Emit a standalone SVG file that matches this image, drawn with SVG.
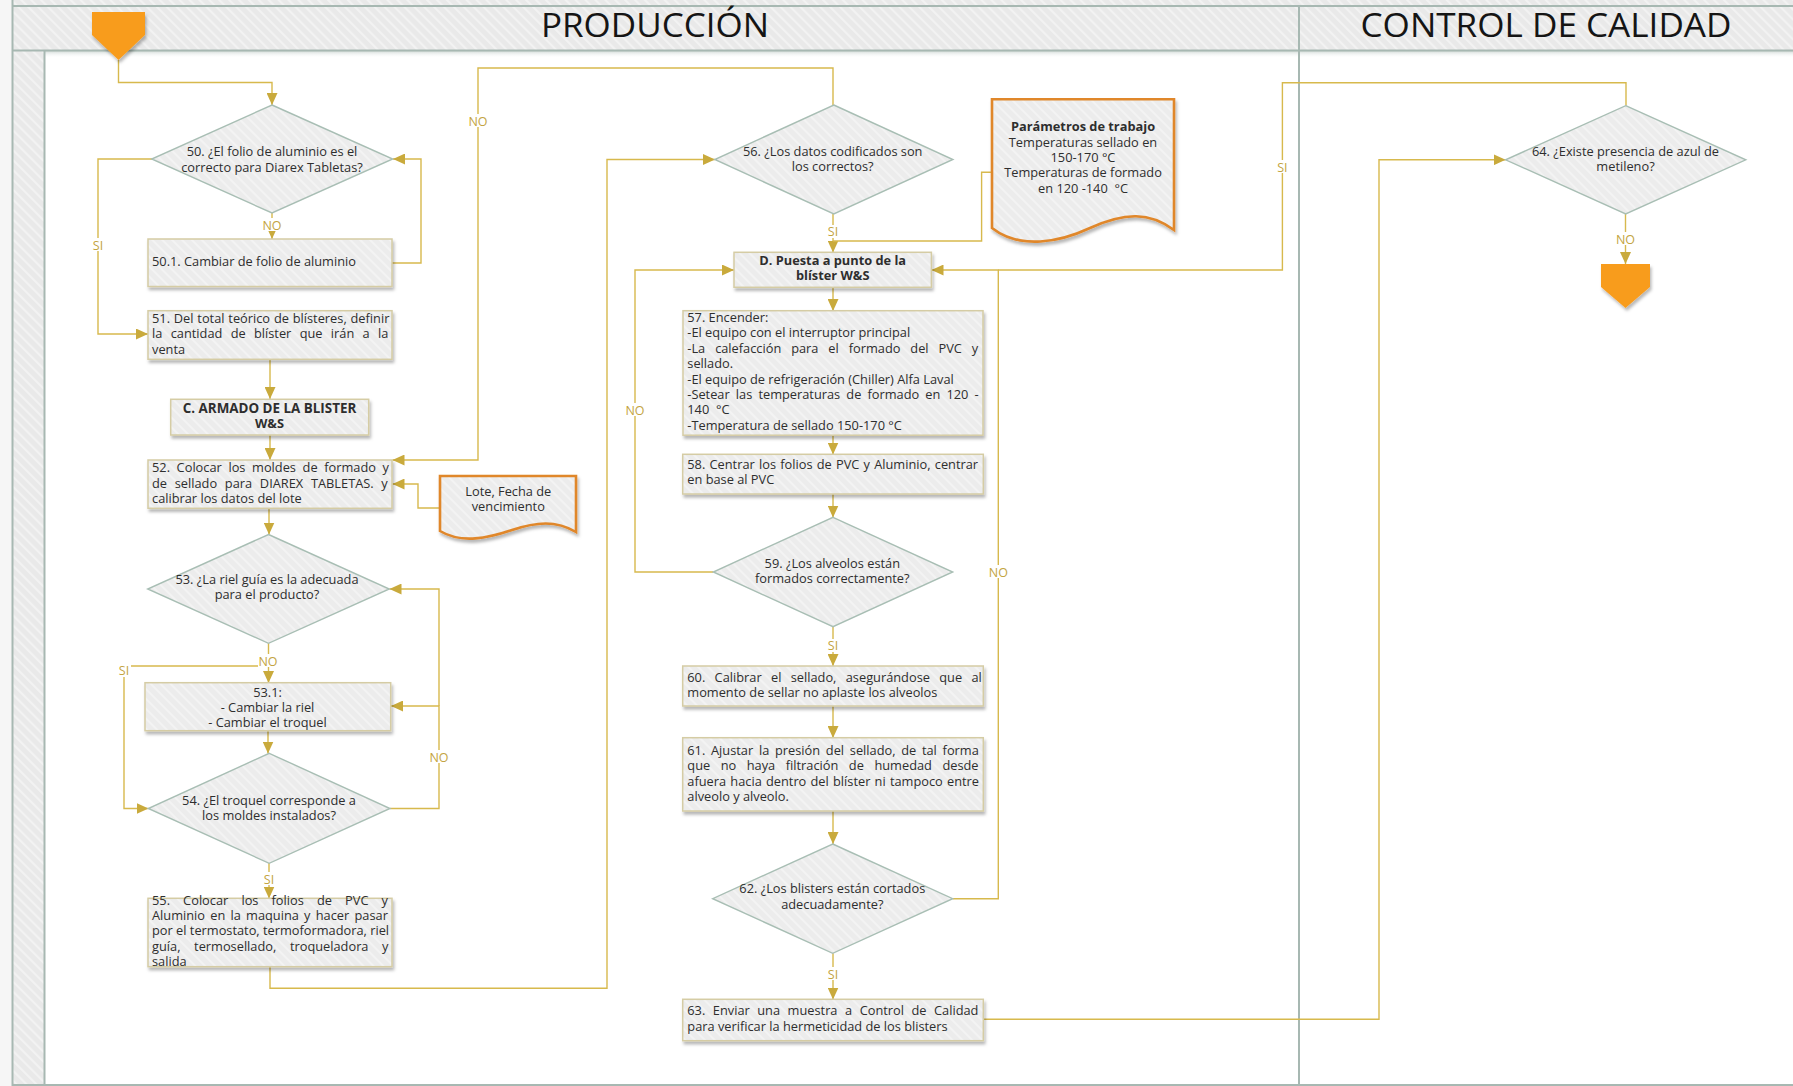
<svg xmlns="http://www.w3.org/2000/svg" width="1793" height="1086" viewBox="0 0 1793 1086">
  <defs>
    <!-- light diagonal hatch used by lanes and node fills -->
    <pattern id="hatch" patternUnits="userSpaceOnUse" width="7" height="7" patternTransform="rotate(-45)">
      <rect width="7" height="7" fill="#ececec"/>
      <line x1="1" y1="0" x2="1" y2="7" stroke="#f3f3f3" stroke-width="2.2"/>
    </pattern>
    <pattern id="hatchLane" patternUnits="userSpaceOnUse" width="7" height="7" patternTransform="rotate(-45)">
      <rect width="7" height="7" fill="#e9e9e9"/>
      <line x1="1" y1="0" x2="1" y2="7" stroke="#f2f2f2" stroke-width="2.4"/>
    </pattern>
    <filter id="shadow" x="-10%" y="-15%" width="130%" height="150%">
      <feDropShadow dx="1.5" dy="3" stdDeviation="1.8" flood-color="#000" flood-opacity="0.28"/>
    </filter>
    <linearGradient id="headShade" x1="0" y1="0" x2="0" y2="1">
      <stop offset="0" stop-color="#aebdb8" stop-opacity="0.55"/>
      <stop offset="1" stop-color="#ffffff" stop-opacity="0"/>
    </linearGradient>
    <marker id="arrow" markerUnits="userSpaceOnUse" markerWidth="13" markerHeight="11" refX="12" refY="5.5" orient="auto">
      <path d="M0,0 L12,5.5 L0,11 Z" fill="#c9aa3c"/>
    </marker>
  </defs>
  <style>
    .lane-line { stroke: #a7b8b2; stroke-width: 2; fill: none; }
    .box { fill: url(#hatch); stroke: #d5cca4; stroke-width: 1.5; filter: url(#shadow); }
    .dia { fill: url(#hatch); stroke: #a8beb4; stroke-width: 1.4; }
    .doc { fill: url(#hatch); stroke: #e0872a; stroke-width: 2.6; filter: url(#shadow); }
    .term { fill: #f89c1d; filter: url(#shadow); }
    .t { font-family: "Open Sans", "Noto Sans", sans-serif; font-size: 12.8px; fill: #2e2e2e; }
    .c { text-anchor: middle; }
    .b { font-weight: 700; }
    .head { font-family: "Open Sans", "Noto Sans", sans-serif; font-size: 32px; fill: #151515; text-anchor: middle; }
    .conn { fill: none; stroke: #d7b94d; stroke-width: 1.4; }
    .arr { marker-end: url(#arrow); }
    .lbl { font-family: "Open Sans", "Noto Sans", sans-serif; font-size: 12.5px; fill: #c3a441; text-anchor: middle; }
    .lblbg { fill: #ffffff; }
  </style>

  <!-- swimlane frame -->
  <g id="lanes">
    <rect x="0" y="0" width="1793" height="1086" fill="#ffffff"/>
    <rect x="0" y="0" width="12" height="1086" fill="#f6f6f6"/>
    <rect x="12" y="0" width="1781" height="6" fill="url(#hatchLane)"/>
    <rect x="12" y="6" width="1781" height="44" fill="url(#hatchLane)"/>
    <rect x="12" y="50" width="33" height="1035" fill="url(#hatchLane)"/>
    <rect x="45" y="51" width="1748" height="7" fill="url(#headShade)"/>
    <line class="lane-line" x1="12" y1="6" x2="1793" y2="6"/>
    <line class="lane-line" x1="12" y1="50.5" x2="1793" y2="50.5" stroke-width="2.5"/>
    <line class="lane-line" x1="12.5" y1="0" x2="12.5" y2="1086"/>
    <line class="lane-line" x1="44.5" y1="50" x2="44.5" y2="1085" stroke-width="1.5"/>
    <line class="lane-line" x1="1299" y1="6" x2="1299" y2="1085" stroke-width="1.5"/>
    <line class="lane-line" x1="12" y1="1085" x2="1793" y2="1085"/>
    <text class="head" x="655" y="37" textLength="228" lengthAdjust="spacingAndGlyphs">PRODUCCIÓN</text>
    <text class="head" x="1546" y="37" textLength="371" lengthAdjust="spacingAndGlyphs">CONTROL DE CALIDAD</text>
  </g>

  <!-- connectors -->
  <g id="connectors">
    <path class="conn arr" d="M118.5,60 V82.5 H272 V105"/>
    <path class="conn arr" d="M272,213 V239"/>
    <path class="conn arr" d="M392,263 H421 V159 H393"/>
    <path class="conn arr" d="M152,159 H98 V334 H148"/>
    <path class="conn arr" d="M270,359 V399"/>
    <path class="conn arr" d="M270,435 V460"/>
    <path class="conn arr" d="M833,105 V68 H478 V460 H392.5"/>
    <path class="conn arr" d="M440,508 H418 V484 H392.5"/>
    <path class="conn arr" d="M269,508 V534.5"/>
    <path class="conn arr" d="M268.5,643 V683"/>
    <path class="conn arr" d="M268.5,666 H124 V808.5 H148.5"/>
    <path class="conn arr" d="M390,808.5 H439 V706 H391"/>
    <path class="conn arr" d="M439,706 V589 H389.5"/>
    <path class="conn arr" d="M268,731 V753.5"/>
    <path class="conn arr" d="M269,863 V898.5"/>
    <path class="conn arr" d="M270,967 V988.3 H607 V159.5 H715"/>
    <path class="conn arr" d="M833,214 V252.5"/>
    <path class="conn" d="M992,172.3 H981.6 V241 H833"/>
    <path class="conn arr" d="M713.3,572 H635 V270 H734"/>
    <path class="conn arr" d="M952.7,898.7 H998.3 V270 H931.5"/>
    <path class="conn" d="M1626,105.7 V82.7 H1282.4 V270 H998.3"/>
    <path class="conn arr" d="M833,287.3 V311"/>
    <path class="conn arr" d="M833,435.5 V454.5"/>
    <path class="conn arr" d="M833,494 V517.5"/>
    <path class="conn arr" d="M833,626.7 V666"/>
    <path class="conn arr" d="M833,706 V738"/>
    <path class="conn arr" d="M833,811 V844"/>
    <path class="conn arr" d="M833,953.3 V999.5"/>
    <path class="conn arr" d="M983.3,1019.3 H1379 V159.8 H1505.6"/>
    <path class="conn arr" d="M1625.5,214 V264"/>
  </g>

  <!-- branch labels -->
  <g id="connector-labels">
    <rect class="lblbg" x="262" y="218" width="20" height="13"/><text class="lbl" x="272" y="229.5">NO</text>
    <rect class="lblbg" x="91" y="238" width="14" height="13"/><text class="lbl" x="98" y="249.5">SI</text>
    <rect class="lblbg" x="468" y="114" width="20" height="13"/><text class="lbl" x="478" y="125.5">NO</text>
    <rect class="lblbg" x="258" y="654" width="20" height="13"/><text class="lbl" x="268" y="665.5">NO</text>
    <rect class="lblbg" x="117" y="663" width="14" height="14"/><text class="lbl" x="124" y="674.5">SI</text>
    <rect class="lblbg" x="429" y="750" width="20" height="13"/><text class="lbl" x="439" y="761.5">NO</text>
    <rect class="lblbg" x="262" y="872" width="14" height="13"/><text class="lbl" x="269" y="883.5">SI</text>
    <rect class="lblbg" x="826" y="225" width="14" height="13"/><text class="lbl" x="833" y="236">SI</text>
    <rect class="lblbg" x="625" y="403" width="20" height="13"/><text class="lbl" x="635" y="414.5">NO</text>
    <rect class="lblbg" x="988" y="565" width="20" height="13"/><text class="lbl" x="998.3" y="576.5">NO</text>
    <rect class="lblbg" x="826" y="639" width="14" height="13"/><text class="lbl" x="833" y="650">SI</text>
    <rect class="lblbg" x="826" y="967" width="14" height="13"/><text class="lbl" x="833" y="978.5">SI</text>
    <rect class="lblbg" x="1275" y="160" width="14" height="13"/><text class="lbl" x="1282.4" y="171.5">SI</text>
    <rect class="lblbg" x="1615" y="232" width="20" height="13"/><text class="lbl" x="1625.5" y="243.5">NO</text>
  </g>

  <!-- terminators -->
  <g id="start">
    <path class="term" d="M92,12 H145 V35 L118.5,60 L92,35 Z"/>
  </g>
  <g id="end">
    <path class="term" d="M1601,264 H1650 V287 L1625.5,308 L1601,287 Z"/>
  </g>

  <!-- Producción: first column -->
  <g id="n50">
    <path class="dia" d="M272,105 L392.7,159 L272,213 L151.7,159 Z"/>
    <text class="t c"><tspan x="272" y="156.3">50. ¿El folio de aluminio es el</tspan><tspan x="272" y="171.7">correcto para Diarex Tabletas?</tspan></text>
  </g>
  <g id="n50_1">
    <rect class="box" x="148" y="239" width="244" height="47.5"/>
    <text class="t" x="152" y="265.5">50.1. Cambiar de folio de aluminio</text>
  </g>
  <g id="n51">
    <rect class="box" x="148" y="310.7" width="244" height="48.6"/>
    <text class="t"><tspan x="152" y="322.9" word-spacing="0.5">51. Del total teórico de blísteres, definir</tspan><tspan x="152" y="338.3" word-spacing="5">la cantidad de blíster que irán a la</tspan><tspan x="152" y="353.7">venta</tspan></text>
  </g>
  <g id="nC">
    <rect class="box" x="170.7" y="399.3" width="198" height="35.7"/>
    <text class="t c b"><tspan x="269.5" y="412.8" font-size="13.4">C. ARMADO DE LA BLISTER</tspan><tspan x="269.5" y="428.2">W&amp;S</tspan></text>
  </g>
  <g id="n52">
    <rect class="box" x="148" y="460" width="244" height="48.3"/>
    <text class="t"><tspan x="152" y="472.1" word-spacing="3.3">52. Colocar los moldes de formado y</tspan><tspan x="152" y="487.5" word-spacing="4.4">de sellado para DIAREX TABLETAS. y</tspan><tspan x="152" y="502.9">calibrar los datos del lote</tspan></text>
  </g>
  <g id="doc_lote">
    <path class="doc" d="M440,476 H576 V532 C556,520 536,522 512,530 C488,538 462,544 440,531 Z"/>
    <text class="t c"><tspan x="508.3" y="496">Lote, Fecha de</tspan><tspan x="508.3" y="511.4">vencimiento</tspan></text>
  </g>
  <g id="n53">
    <path class="dia" d="M268.5,534.5 L389.3,589 L268.5,643.3 L147.7,589 Z"/>
    <text class="t c"><tspan x="267" y="583.9">53. ¿La riel guía es la adecuada</tspan><tspan x="267" y="599.3">para el producto?</tspan></text>
  </g>
  <g id="n53_1">
    <rect class="box" x="145" y="682.7" width="245.7" height="48"/>
    <text class="t c"><tspan x="267.5" y="696.5">53.1:</tspan><tspan x="267.5" y="711.9">- Cambiar la riel</tspan><tspan x="267.5" y="727.3">- Cambiar el troquel</tspan></text>
  </g>
  <g id="n54">
    <path class="dia" d="M269.2,753.3 L390,808.5 L269.2,863.3 L148.3,808.5 Z"/>
    <text class="t c"><tspan x="269" y="804.5">54. ¿El troquel corresponde a</tspan><tspan x="269" y="819.9">los moldes instalados?</tspan></text>
  </g>
  <g id="n55">
    <rect class="box" x="148" y="898.3" width="244" height="68.4"/>
    <text class="t"><tspan x="152" y="904.5" word-spacing="9.8">55. Colocar los folios de PVC y</tspan><tspan x="152" y="919.9" word-spacing="1.9">Aluminio en la maquina y hacer pasar</tspan><tspan x="152" y="935.3" word-spacing="0">por el termostato, termoformadora, riel</tspan><tspan x="152" y="950.7" word-spacing="10.3">guía, termosellado, troqueladora y</tspan><tspan x="152" y="966.1">salida</tspan></text>
  </g>

  <!-- Producción: second column -->
  <g id="n56">
    <path class="dia" d="M833.8,105 L952.9,159.5 L833.8,214 L714.8,159.5 Z"/>
    <text class="t c"><tspan x="832.7" y="156">56. ¿Los datos codificados son</tspan><tspan x="832.7" y="171.4">los correctos?</tspan></text>
  </g>
  <g id="doc_param">
    <path class="doc" d="M992,99.3 H1174 V230 C1150,212 1125,212 1090,228 C1060,242 1020,250 992,228 Z"/>
    <text class="t c"><tspan x="1083" y="131.2" font-weight="700">Parámetros de trabajo</tspan><tspan x="1083" y="146.6">Temperaturas sellado en</tspan><tspan x="1083" y="162">150-170 °C</tspan><tspan x="1083" y="177.4">Temperaturas de formado</tspan><tspan x="1083" y="192.8">en 120 -140&#160; °C</tspan></text>
  </g>
  <g id="nD">
    <rect class="box" x="734" y="252.3" width="197.4" height="35"/>
    <text class="t c b"><tspan x="832.7" y="264.8">D. Puesta a punto de la</tspan><tspan x="832.7" y="280.2">blíster W&amp;S</tspan></text>
  </g>
  <g id="n57">
    <rect class="box" x="683" y="310.7" width="300" height="124.5"/>
    <text class="t"><tspan x="687.3" y="321.9">57. Encender:</tspan><tspan x="687.3" y="337.3">-El equipo con el interruptor principal</tspan><tspan x="687.3" y="352.7" word-spacing="6.6">-La calefacción para el formado del PVC y</tspan><tspan x="687.3" y="368.1">sellado.</tspan><tspan x="687.3" y="383.5">-El equipo de refrigeración (Chiller) Alfa Laval</tspan><tspan x="687.3" y="398.9" word-spacing="2.8">-Setear las temperaturas de formado en 120 -</tspan><tspan x="687.3" y="414.3">140&#160; °C</tspan><tspan x="687.3" y="429.7">-Temperatura de sellado 150-170 °C</tspan></text>
  </g>
  <g id="n58">
    <rect class="box" x="682.7" y="454.3" width="300.6" height="39.7"/>
    <text class="t"><tspan x="687.3" y="468.9" word-spacing="0.9">58. Centrar los folios de PVC y Aluminio, centrar</tspan><tspan x="687.3" y="484.3">en base al PVC</tspan></text>
  </g>
  <g id="n59">
    <path class="dia" d="M833,517.3 L952.7,572 L833,626.7 L713.3,572 Z"/>
    <text class="t c"><tspan x="832.3" y="567.8">59. ¿Los alveolos están</tspan><tspan x="832.3" y="583.2">formados correctamente?</tspan></text>
  </g>
  <g id="n60">
    <rect class="box" x="682.7" y="666" width="300.6" height="40"/>
    <text class="t"><tspan x="687.3" y="681.8" word-spacing="6">60. Calibrar el sellado, asegurándose que al</tspan><tspan x="687.3" y="697.2">momento de sellar no aplaste los alveolos</tspan></text>
  </g>
  <g id="n61">
    <rect class="box" x="682.7" y="737.7" width="300.6" height="73.3"/>
    <text class="t"><tspan x="687.3" y="754.8" word-spacing="2.4">61. Ajustar la presión del sellado, de tal forma</tspan><tspan x="687.3" y="770.2" word-spacing="7.2">que no haya filtración de humedad desde</tspan><tspan x="687.3" y="785.6" word-spacing="0.9">afuera hacia dentro del blíster ni tampoco entre</tspan><tspan x="687.3" y="801">alveolo y alveolo.</tspan></text>
  </g>
  <g id="n62">
    <path class="dia" d="M832.7,844 L952.7,898.7 L832.7,953.3 L712.7,898.7 Z"/>
    <text class="t c"><tspan x="832.3" y="893.3">62. ¿Los blisters están cortados</tspan><tspan x="832.3" y="908.7">adecuadamente?</tspan></text>
  </g>
  <g id="n63">
    <rect class="box" x="682.7" y="999.3" width="300.6" height="41.4"/>
    <text class="t"><tspan x="687.3" y="1015.3" word-spacing="4.2">63. Enviar una muestra a Control de Calidad</tspan><tspan x="687.3" y="1030.7">para verificar la hermeticidad de los blisters</tspan></text>
  </g>

  <!-- Control de calidad -->
  <g id="n64">
    <path class="dia" d="M1625.7,105.7 L1745.8,159.8 L1625.7,214 L1505.6,159.8 Z"/>
    <text class="t c"><tspan x="1625.5" y="156">64. ¿Existe presencia de azul de</tspan><tspan x="1625.5" y="171.4">metileno?</tspan></text>
  </g>
</svg>
